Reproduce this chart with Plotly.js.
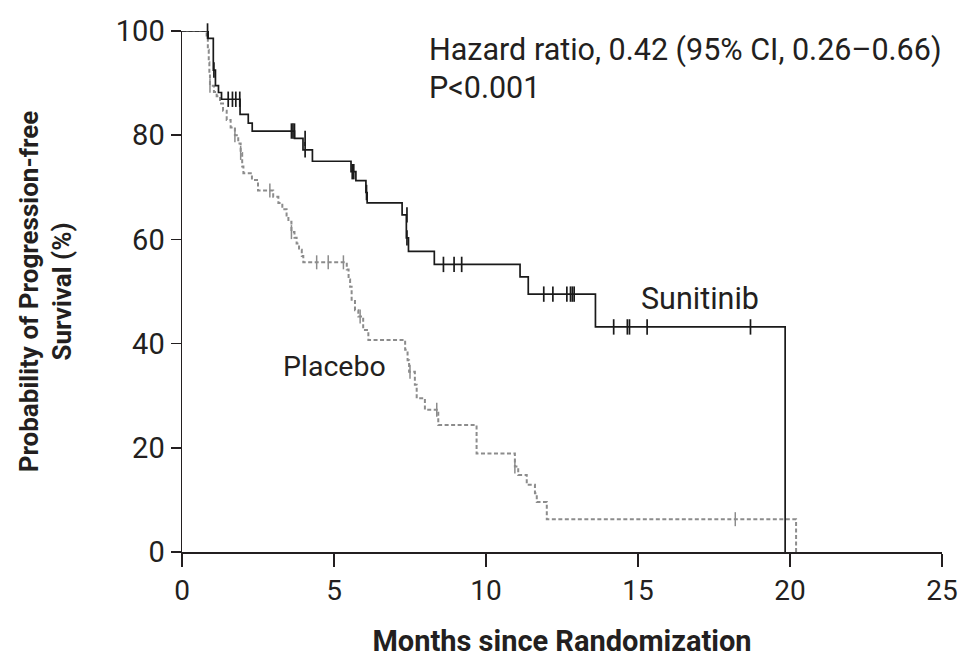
<!DOCTYPE html>
<html>
<head>
<meta charset="utf-8">
<script src="https://cdn.plot.ly/plotly-3.0.1.min.js"></script>
<style>html,body{margin:0;padding:0;background:#fff;}#chart{width:960px;height:658px;}</style>
</head>
<body>
<div id="chart"></div>
<script>
// Sunitinib Kaplan-Meier steps
const sunitinibMonths = [0, 0.86, 1.03, 1.1, 1.2, 1.3, 1.91, 2.18, 2.31, 3.7, 3.98, 4.29, 5.56, 5.72, 6.05, 6.09, 7.24, 7.38, 7.45, 8.3, 11.12, 11.39, 13.6, 19.84];
const sunitinibSurv   = [100, 98.6, 92.5, 89.5, 88.2, 86.9, 84.0, 82.3, 80.8, 79.4, 77.2, 75.0, 73.0, 71.3, 69.0, 67.0, 64.7, 60.3, 57.7, 55.2, 52.8, 49.5, 43.2, 0];
const sunitinibCensorMonths = [0.84, 1.05, 1.52, 1.66, 1.77, 1.9, 3.6, 3.65, 3.7, 4.05, 4.05, 5.6, 5.65, 6.07, 7.4, 7.4, 8.6, 8.95, 9.2, 11.9, 12.2, 12.66, 12.78, 12.84, 12.9, 14.2, 14.65, 14.72, 15.3, 18.7];
const sunitinibCensorSurv   = [100, 92.5, 86.9, 86.9, 86.9, 86.9, 80.8, 80.8, 80.8, 79.4, 77.2, 73.0, 73.0, 69.0, 64.7, 60.3, 55.2, 55.2, 55.2, 49.5, 49.5, 49.5, 49.5, 49.5, 49.5, 43.2, 43.2, 43.2, 43.2, 43.2];

// Placebo Kaplan-Meier steps
const placeboMonths = [0, 0.81, 0.85, 0.88, 0.9, 0.92, 1.05, 1.14, 1.25, 1.35, 1.47, 1.6, 1.74, 1.85, 1.93, 1.98, 2.02, 2.3, 2.5, 3.0, 3.17, 3.3, 3.44, 3.5, 3.6, 3.7, 3.77, 3.85, 3.94, 3.99, 5.42, 5.48, 5.53, 5.58, 5.69, 5.8, 5.96, 6.13, 7.34, 7.42, 7.47, 7.66, 7.72, 7.99, 8.43, 9.69, 10.95, 11.06, 11.34, 11.61, 11.67, 12.0, 20.2];
const placeboSurv   = [100, 98.8, 96.4, 94.0, 91.7, 89.5, 88.3, 87.5, 86.1, 84.7, 82.9, 81.5, 80.0, 78.4, 76.6, 74.0, 72.7, 71.4, 69.4, 68.2, 67.0, 65.8, 64.6, 63.4, 61.4, 60.3, 59.2, 58.0, 56.8, 55.6, 54.2, 52.3, 50.9, 48.4, 46.4, 45.2, 42.6, 40.7, 38.8, 36.8, 34.6, 32.1, 29.5, 27.3, 24.4, 18.9, 16.4, 14.8, 12.9, 11.3, 9.6, 6.3, 0];
const placeboCensorMonths = [0.92, 1.74, 1.93, 2.89, 3.6, 4.43, 4.81, 5.31, 5.86, 7.5, 8.38, 10.95, 18.2];
const placeboCensorSurv   = [89.5, 80.0, 76.6, 69.4, 61.4, 55.6, 55.6, 55.6, 45.2, 34.6, 27.3, 16.4, 6.3];

const xTickVals = [0, 5, 10, 15, 20, 25];
const yTickVals = [0, 20, 40, 60, 80, 100];

const FONT = '"Roboto", "Open Sans", sans-serif';
const INK = '#231f20';
const SUNITINIB_COLOR = '#1a1a1a';
const PLACEBO_COLOR = '#8c8c8c';

const traces = [
  {x: placeboMonths, y: placeboSurv, mode: 'lines', line: {shape: 'hv', color: PLACEBO_COLOR, width: 2, dash: '4px,2.5px'}, cliponaxis: false},
  {x: placeboCensorMonths, y: placeboCensorSurv, mode: 'markers', marker: {symbol: 'line-ns-open', size: 10, color: PLACEBO_COLOR, line: {color: PLACEBO_COLOR, width: 1.5}}, cliponaxis: false},
  {x: sunitinibMonths, y: sunitinibSurv, mode: 'lines', line: {shape: 'hv', color: SUNITINIB_COLOR, width: 1.7}, cliponaxis: false},
  {x: sunitinibCensorMonths, y: sunitinibCensorSurv, mode: 'markers', marker: {symbol: 'line-ns-open', size: 11, color: SUNITINIB_COLOR, line: {color: SUNITINIB_COLOR, width: 1.7}}, cliponaxis: false}
];

const layout = {
  width: 960, height: 658,
  margin: {l: 182, r: 18, t: 31, b: 106},
  paper_bgcolor: '#fff', plot_bgcolor: '#fff',
  showlegend: false,
  font: {family: FONT, color: INK, size: 24},
  xaxis: {
    range: [0, 25], tickvals: xTickVals, ticktext: xTickVals.map(String),
    showgrid: false, zeroline: false, showline: true, linecolor: INK, linewidth: 1.5,
    ticks: 'outside', ticklen: 13, tickwidth: 1.5, tickcolor: INK,
    tickfont: {family: FONT, size: 28, color: INK},
    title: {text: '<b>Months since Randomization</b>', font: {family: FONT, size: 29, color: INK}, standoff: 28}
  },
  yaxis: {
    range: [0, 100], tickvals: yTickVals, ticktext: yTickVals.map(String),
    showgrid: false, zeroline: false, showline: true, linecolor: INK, linewidth: 1.5,
    ticks: 'outside', ticklen: 10, tickwidth: 1.5, tickcolor: INK,
    tickfont: {family: FONT, size: 29, color: INK},
    title: {text: '<b>Probability of Progression-free<br>Survival (%)</b>', font: {family: FONT, size: 26, color: INK}, standoff: 36}
  },
  annotations: [
    {xref: 'paper', yref: 'paper', x: 0.322, y: 0.9635, xanchor: 'left', yanchor: 'middle', showarrow: false, text: 'Hazard ratio, 0.42 (95% CI, 0.26–0.66)', font: {family: FONT, size: 30.5, color: INK}},
    {xref: 'paper', yref: 'paper', x: 0.322, y: 0.8906, xanchor: 'left', yanchor: 'middle', showarrow: false, text: 'P&lt;0.001', font: {family: FONT, size: 30.5, color: INK}},
    {xref: 'x', yref: 'y', x: 17.04, y: 48.6, xanchor: 'center', yanchor: 'middle', showarrow: false, text: 'Sunitinib', font: {family: FONT, size: 30.5, color: INK}},
    {xref: 'x', yref: 'y', x: 5.03, y: 35.7, xanchor: 'center', yanchor: 'middle', showarrow: false, text: 'Placebo', font: {family: FONT, size: 28.5, color: INK}}
  ]
};

Plotly.newPlot('chart', traces, layout, {staticPlot: true, displayModeBar: false});
</script>
</body>
</html>
